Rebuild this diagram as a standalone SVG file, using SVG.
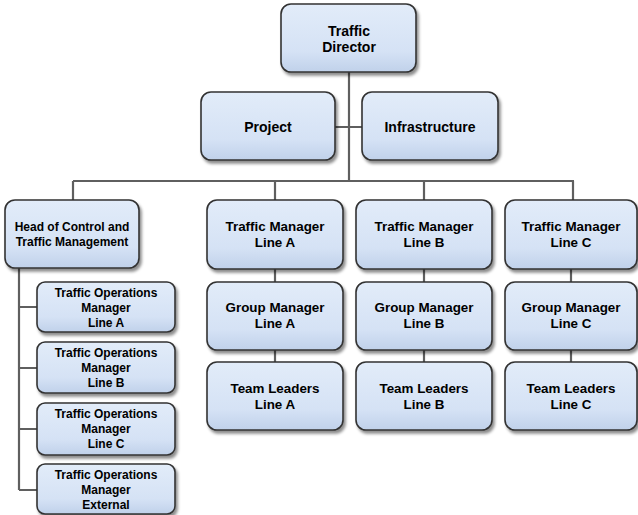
<svg xmlns="http://www.w3.org/2000/svg" width="638" height="515" viewBox="0 0 638 515">
<defs>
<linearGradient id="g" x1="0" y1="0" x2="0" y2="1">
<stop offset="0" stop-color="#e2ecf9"/>
<stop offset="0.7" stop-color="#d5e2f5"/>
<stop offset="1" stop-color="#c0d1ea"/>
</linearGradient>
<filter id="sh" x="-10%" y="-10%" width="130%" height="140%">
<feDropShadow dx="2" dy="3" stdDeviation="1.5" flood-color="#000" flood-opacity="0.45"/>
</filter>
<style>
.b{fill:url(#g);stroke:#333;stroke-width:1.6;filter:url(#sh)}
.c{fill:none;stroke:#5f5f5f;stroke-width:2.2}
text{font-family:"Liberation Sans",Arial,sans-serif;font-weight:bold;fill:#000;text-anchor:middle}
.t14{font-size:14px}
.t13{font-size:13.4px}
.t12{font-size:12px}
</style>
</defs>
<rect width="638" height="515" fill="#fff"/>
<g id="connectors">
<path class="c" d="M349 72V181M335 127H362M73 181H574M73 181V200M275 181V200M424 181V200M573 181V200"/>
<path class="c" d="M275 269V282M275 350V362M424 269V282M424 350V362M571 269V282M571 350V362"/>
<path class="c" d="M19 268V490M19 307H37M19 368H37M19 429H37M19 490H37"/>
</g>
<g id="director"><rect class="b" x="281" y="4" width="135" height="68" rx="10"/><text class="t14" x="349" y="36">Traffic</text><text class="t14" x="349" y="52">Director</text></g>
<g id="project"><rect class="b" x="201" y="92" width="134" height="68" rx="10"/><text class="t14" x="268" y="132">Project</text></g>
<g id="infrastructure"><rect class="b" x="362" y="92" width="136" height="68" rx="10"/><text class="t14" x="430" y="132">Infrastructure</text></g>
<g id="head"><rect class="b" x="5" y="200" width="134" height="68" rx="10"/><text class="t12" x="72" y="231">Head of Control and</text><text class="t12" x="72" y="246">Traffic Management</text></g>
<g id="tm-a"><rect class="b" x="207" y="200" width="136" height="69" rx="10"/><text class="t13" x="275" y="231">Traffic Manager</text><text class="t13" x="275" y="247">Line A</text></g>
<g id="tm-b"><rect class="b" x="356" y="200" width="136" height="69" rx="10"/><text class="t13" x="424" y="231">Traffic Manager</text><text class="t13" x="424" y="247">Line B</text></g>
<g id="tm-c"><rect class="b" x="505" y="200" width="132" height="69" rx="10"/><text class="t13" x="571" y="231">Traffic Manager</text><text class="t13" x="571" y="247">Line C</text></g>
<g id="gm-a"><rect class="b" x="207" y="282" width="136" height="68" rx="10"/><text class="t13" x="275" y="312">Group Manager</text><text class="t13" x="275" y="328">Line A</text></g>
<g id="gm-b"><rect class="b" x="356" y="282" width="136" height="68" rx="10"/><text class="t13" x="424" y="312">Group Manager</text><text class="t13" x="424" y="328">Line B</text></g>
<g id="gm-c"><rect class="b" x="505" y="282" width="132" height="68" rx="10"/><text class="t13" x="571" y="312">Group Manager</text><text class="t13" x="571" y="328">Line C</text></g>
<g id="tl-a"><rect class="b" x="207" y="362" width="136" height="68" rx="10"/><text class="t13" x="275" y="393">Team Leaders</text><text class="t13" x="275" y="409">Line A</text></g>
<g id="tl-b"><rect class="b" x="356" y="362" width="136" height="68" rx="10"/><text class="t13" x="424" y="393">Team Leaders</text><text class="t13" x="424" y="409">Line B</text></g>
<g id="tl-c"><rect class="b" x="505" y="362" width="132" height="68" rx="10"/><text class="t13" x="571" y="393">Team Leaders</text><text class="t13" x="571" y="409">Line C</text></g>
<g id="tom-a"><rect class="b" x="37" y="282" width="138" height="50" rx="8"/><text class="t12" x="106" y="297">Traffic Operations</text><text class="t12" x="106" y="312">Manager</text><text class="t12" x="106" y="327">Line A</text></g>
<g id="tom-b"><rect class="b" x="37" y="342" width="138" height="51" rx="8"/><text class="t12" x="106" y="357">Traffic Operations</text><text class="t12" x="106" y="372">Manager</text><text class="t12" x="106" y="387">Line B</text></g>
<g id="tom-c"><rect class="b" x="37" y="403" width="138" height="52" rx="8"/><text class="t12" x="106" y="418">Traffic Operations</text><text class="t12" x="106" y="433">Manager</text><text class="t12" x="106" y="448">Line C</text></g>
<g id="tom-ext"><rect class="b" x="37" y="464" width="138" height="50" rx="8"/><text class="t12" x="106" y="479">Traffic Operations</text><text class="t12" x="106" y="494">Manager</text><text class="t12" x="106" y="509">External</text></g>
</svg>
